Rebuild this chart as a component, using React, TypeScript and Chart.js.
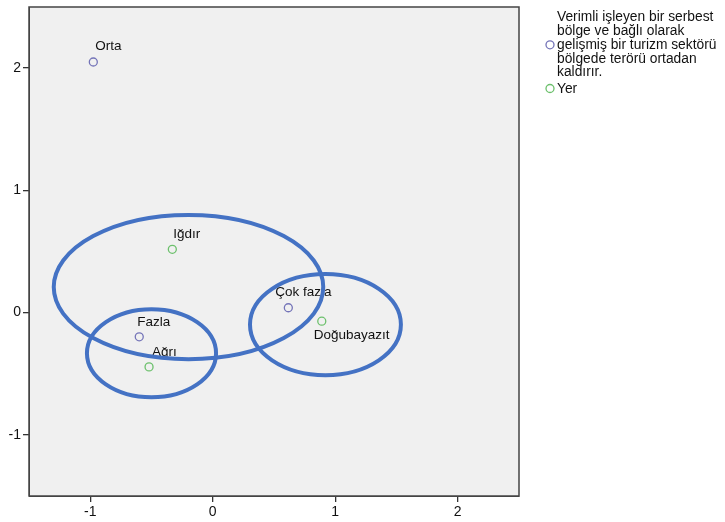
import React, { useEffect, useRef } from "react";
import { Chart, registerables } from "chart.js";

Chart.register(...registerables);

const rowSeriesName = [
  "Verimli işleyen bir serbest",
  "bölge ve bağlı olarak",
  "gelişmiş bir turizm sektörü",
  "bölgede terörü ortadan",
  "kaldırır.",
];
const colSeriesName = ["Yer"];

const rowLabels = ["Orta", "Fazla", "Çok fazla"];
const rowX = [-0.975, -0.6, 0.617];
const rowY = [2.05, -0.198, 0.04];

const colLabels = ["Iğdır", "Ağrı", "Doğubayazıt"];
const colX = [-0.33, -0.52, 0.89];
const colY = [0.518, -0.444, -0.07];

const tickValues = [-1, 0, 1, 2];

// ellipse annotations in data units
const ellCx = [-0.198, -0.5, 0.92];
const ellCy = [0.209, -0.332, -0.098];
const ellRx = [1.1, 0.527, 0.616];
const ellRy = [0.59, 0.36, 0.414];

const FONT = "'Liberation Sans', Arial, sans-serif";
const BLUE = "#7474b8";
const GREEN = "#6cc06c";

const labelOffsets: Record<string, [number, number]> = {
  Orta: [2, -16],
  Fazla: [-2, -15],
  "Çok fazla": [-13, -15],
  "Iğdır": [1, -15],
  "Ağrı": [3, -15],
  "Doğubayazıt": [-8, 14],
};

const framePlugin = {
  id: "frame",
  beforeDraw(chart: any) {
    const { ctx, chartArea: a } = chart;
    ctx.save();
    ctx.fillStyle = "#f0f0f0";
    ctx.fillRect(a.left, a.top, a.right - a.left, a.bottom - a.top);
    ctx.restore();
  },
  afterDraw(chart: any) {
    const { ctx, chartArea: a, scales } = chart;
    ctx.save();
    ctx.strokeStyle = "#444";
    ctx.lineWidth = 1.5;
    ctx.strokeRect(a.left, a.top, a.right - a.left, a.bottom - a.top);
    // ellipses
    ctx.strokeStyle = "#4472c4";
    ctx.lineWidth = 4;
    for (let i = 0; i < ellCx.length; i++) {
      const cx = scales.x.getPixelForValue(ellCx[i]);
      const cy = scales.y.getPixelForValue(ellCy[i]);
      const rx = Math.abs(scales.x.getPixelForValue(ellCx[i] + ellRx[i]) - cx);
      const ry = Math.abs(scales.y.getPixelForValue(ellCy[i] + ellRy[i]) - cy);
      ctx.beginPath();
      ctx.ellipse(cx, cy, rx, ry, 0, 0, Math.PI * 2);
      ctx.stroke();
    }
    // legend
    const lx = 557;
    ctx.font = `13.8px ${FONT}`;
    ctx.fillStyle = "#111";
    ctx.textBaseline = "middle";
    ctx.textAlign = "left";
    const lineH = 13.9;
    const y0 = 17;
    rowSeriesName.forEach((t, i) => ctx.fillText(t, lx, y0 + i * lineH));
    const midY = y0 + ((rowSeriesName.length - 1) / 2) * lineH;
    ctx.lineWidth = 1.3;
    ctx.strokeStyle = BLUE;
    ctx.beginPath();
    ctx.arc(550, midY, 4, 0, Math.PI * 2);
    ctx.stroke();
    const yY = y0 + rowSeriesName.length * lineH + 3;
    ctx.fillText(colSeriesName[0], lx, yY);
    ctx.strokeStyle = GREEN;
    ctx.beginPath();
    ctx.arc(550, yY - 1, 4, 0, Math.PI * 2);
    ctx.stroke();
    ctx.restore();
  },
};

const pointLabelPlugin = {
  id: "pointLabels",
  afterDatasetsDraw(chart: any) {
    const { ctx } = chart;
    ctx.save();
    ctx.font = `13.5px ${FONT}`;
    ctx.fillStyle = "#111";
    ctx.textBaseline = "middle";
    ctx.textAlign = "left";
    chart.data.datasets.forEach((ds: any, di: number) => {
      const meta = chart.getDatasetMeta(di);
      meta.data.forEach((el: any, i: number) => {
        const lbl = ds.labelsText[i];
        const off = labelOffsets[lbl] || [0, -15];
        ctx.fillText(lbl, el.x + off[0], el.y + off[1]);
      });
    });
    ctx.restore();
  },
};

export default function App() {
  const ref = useRef<HTMLCanvasElement>(null);
  useEffect(() => {
    document.body.style.margin = "0";
    const chart = new Chart(ref.current!, {
      type: "scatter",
      data: {
        datasets: [
          {
            label: rowSeriesName.join(" "),
            data: rowX.map((x, i) => ({ x, y: rowY[i] })),
            labelsText: rowLabels,
            borderColor: BLUE,
            backgroundColor: "rgba(0,0,0,0)",
            pointRadius: 4,
            pointBorderWidth: 1.3,
          } as any,
          {
            label: colSeriesName[0],
            data: colX.map((x, i) => ({ x, y: colY[i] })),
            labelsText: colLabels,
            borderColor: GREEN,
            backgroundColor: "rgba(0,0,0,0)",
            pointRadius: 4,
            pointBorderWidth: 1.3,
          } as any,
        ],
      },
      options: {
        animation: false,
        responsive: false,
        layout: { padding: { top: 7, right: 206, left: 0, bottom: 0 } },
        plugins: { legend: { display: false }, tooltip: { enabled: false } },
        scales: {
          x: {
            type: "linear",
            min: -1.5,
            max: 2.5,
            afterBuildTicks: (s: any) => {
              s.ticks = tickValues.map((v) => ({ value: v }));
            },
            afterFit: (s: any) => {
              s.height = 26;
              s.paddingLeft = 0;
              s.paddingRight = 0;
            },
            grid: { drawOnChartArea: false, tickLength: 6, color: "#333", lineWidth: 1.3 },
            border: { display: true, color: "#444" },
            ticks: { color: "#111", font: { family: FONT, size: 14 }, padding: 2 },
          },
          y: {
            type: "linear",
            min: -1.5,
            max: 2.5,
            afterBuildTicks: (s: any) => {
              s.ticks = tickValues.map((v) => ({ value: v }));
            },
            afterFit: (s: any) => {
              s.width = 29;
              s.paddingTop = 0;
              s.paddingBottom = 0;
            },
            grid: { drawOnChartArea: false, tickLength: 6, color: "#333", lineWidth: 1.3 },
            border: { display: true, color: "#444" },
            ticks: { color: "#111", font: { family: FONT, size: 14 }, padding: 2 },
          },
        },
      },
      plugins: [framePlugin, pointLabelPlugin],
    });
    return () => chart.destroy();
  }, []);
  return <canvas ref={ref} width={725} height={522} style={{ display: "block" }} />;
}
